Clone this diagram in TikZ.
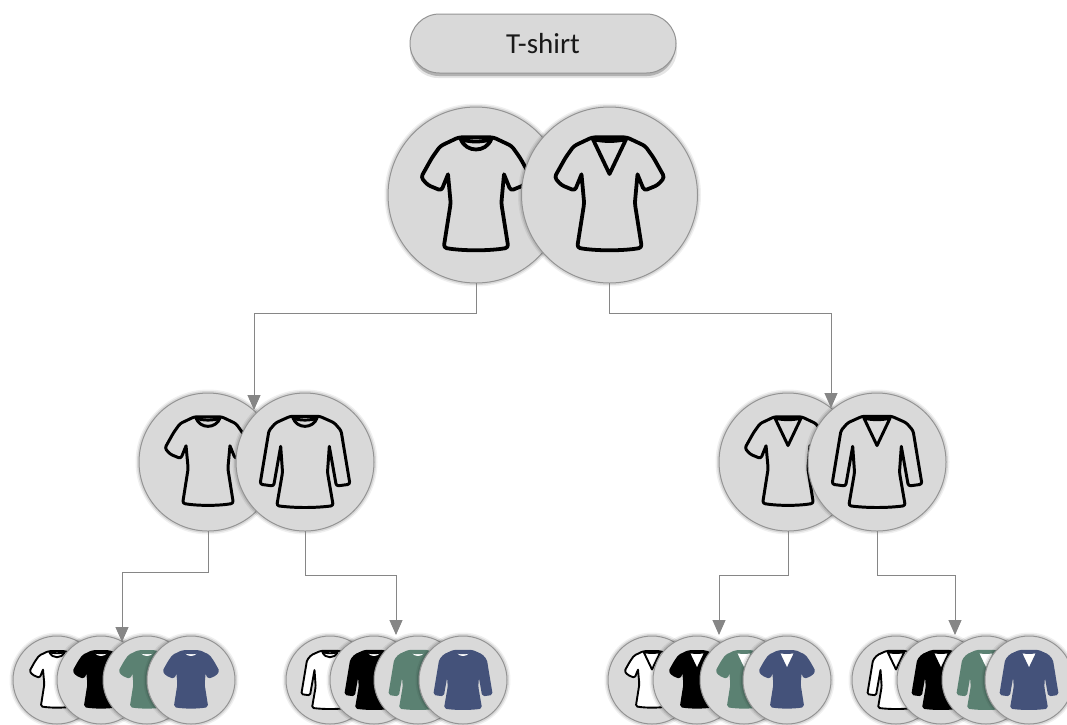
\documentclass[tikz,border=0pt]{standalone}
\usepackage{fontspec}
\setmainfont{Carlito}
\usetikzlibrary{arrows.meta,shapes.misc}
\definecolor{disc}{HTML}{D9D9D9}
\definecolor{rim}{HTML}{949494}
\definecolor{linkgray}{HTML}{868686}
\definecolor{sage}{HTML}{5B8172}
\definecolor{navy}{HTML}{44527A}
\tikzset{
  discnode/.style={circle,draw=rim,line width=1pt,fill=disc,inner sep=0pt,outer sep=0pt},
  pillnode/.style={rounded rectangle,draw=rim,line width=1pt,fill=disc,inner sep=0pt,outer sep=0pt,
    minimum width=266pt,minimum height=59pt,font=\fontsize{29}{32}\selectfont,text=black!90},
  link/.style={draw=linkgray,line width=1pt,-{Triangle[length=15pt,width=13pt,fill=linkgray]}},
}
% body outlines, in units of 1/264 of the disc radius
\def\bodyS{(-52,-173) -- (-107,-147) -- (-132,-112) -- (-165,-53) -- (-145,-30) -- (-104,-13) [sharp corners] -- (-84,-62) [rounded corners=\rc pt]
  -- (-76,25) -- (-97,158) .. controls (-40,168) and (40,168) .. (97,158) -- (76,25) [sharp corners] -- (84,-62) [rounded corners=\rc pt]
  -- (104,-13) -- (145,-30) -- (165,-53) -- (132,-112) -- (107,-147) -- (52,-173) -- cycle}
\def\bodyL{(-56,-175) -- (-112,-150) -- (-138,-120) -- (-172,85) -- (-120,92) [sharp corners] -- (-93,-60) [rounded corners=\rc pt]
  -- (-86,40) -- (-108,167) .. controls (-40,176) and (40,176) .. (108,167) -- (86,40) [sharp corners] -- (93,-60) [rounded corners=\rc pt]
  -- (120,92) -- (172,85) -- (138,-120) -- (112,-150) -- (56,-175) -- cycle}
\def\neckR{(-46,-168) .. controls (-20,-158) and (20,-158) .. (46,-168) .. controls (30,-126) and (-30,-126) .. cycle}
\def\neckV{(-50,-168) .. controls (-20,-160) and (20,-160) .. (50,-168) -- (0,-63) -- cycle}
% name, cx, cy, r, body, neck, fill, stroke, neck fill
\newcommand\teedisc[9]{%
  \fill[black,opacity=.06] (#2,#3) circle ({#4+3.5});
  \fill[black,opacity=.10] (#2,#3) circle ({#4+2});
  \node[discnode,minimum size=#4*2pt] (#1) at (#2,#3) {};
  \pgfmathsetmacro\sc{#4/264}
  \pgfmathsetmacro\lw{#4*.043}
  \pgfmathsetmacro\rc{#4*.035}
  \begin{scope}[shift={(#1.center)},x=\sc pt,y=-\sc pt,line width=\lw pt,line join=round]
    \expandafter\let\expandafter\curbody\csname body#5\endcsname
    \expandafter\let\expandafter\curneck\csname neck#6\endcsname
    \filldraw[fill=#7,draw=#8,rounded corners=\rc pt] \curbody;
    \filldraw[fill=#9,draw=#8,line width=\lw pt] \curneck;
  \end{scope}}
\begin{document}
\begin{tikzpicture}[x=1pt,y=-1pt]
\useasboundingbox (0,0) rectangle (1067,724);
\fill[white] (0,0) rectangle (1067,724);
% title
\fill[black,opacity=.10,rounded corners=28pt] (410,18) rectangle (677,78);
\fill[black,opacity=.22,rounded corners=28pt] (411,18) rectangle (675,76);
\node[pillnode] (title) at (543,43.5) {T-shirt};
% top level
\teedisc{a1}{476}{195}{88}{S}{R}{disc}{black}{disc}
\teedisc{a2}{609.5}{195}{88}{S}{V}{disc}{black}{disc}
% middle level
\teedisc{b1}{208}{462}{69}{S}{R}{disc}{black}{disc}
\teedisc{b2}{305}{462}{69}{L}{R}{disc}{black}{disc}
\teedisc{b3}{788}{462}{69}{S}{V}{disc}{black}{disc}
\teedisc{b4}{877}{462}{69}{L}{V}{disc}{black}{disc}
% bottom level
\teedisc{c1}{57}{680}{44}{S}{R}{white}{black}{white}
\teedisc{c2}{101}{680}{44}{S}{R}{black}{black}{white}
\teedisc{c3}{147}{680}{44}{S}{R}{sage}{sage}{white}
\teedisc{c4}{191}{680}{44}{S}{R}{navy}{navy}{white}
\teedisc{d1}{330}{680}{44}{L}{R}{white}{black}{white}
\teedisc{d2}{374}{680}{44}{L}{R}{black}{black}{white}
\teedisc{d3}{418}{680}{44}{L}{R}{sage}{sage}{white}
\teedisc{d4}{463}{680}{44}{L}{R}{navy}{navy}{white}
\teedisc{e1}{652}{680}{44}{S}{V}{white}{black}{white}
\teedisc{e2}{697}{680}{44}{S}{V}{black}{black}{white}
\teedisc{e3}{744}{680}{44}{S}{V}{sage}{sage}{white}
\teedisc{e4}{787}{680}{44}{S}{V}{navy}{navy}{white}
\teedisc{f1}{896}{680}{44}{L}{V}{white}{black}{white}
\teedisc{f2}{941}{680}{44}{L}{V}{black}{black}{white}
\teedisc{f3}{986}{680}{44}{L}{V}{sage}{sage}{white}
\teedisc{f4}{1029}{680}{44}{L}{V}{navy}{navy}{white}
% arrow ends
\coordinate (t1) at (254,410);
\coordinate (t2) at (831,408);
\coordinate (t3) at (122,642);
\coordinate (t4) at (396,635);
\coordinate (t5) at (719,635);
\coordinate (t6) at (955,635);
% connectors
\draw[link] (a1.south) -- ++(0,30) -| (t1);
\draw[link] (a2.south) -- ++(0,30) -| (t2);
\draw[link] (b1.south) -- ++(0,41) -| (t3);
\draw[link] (b2.south) -- ++(0,44) -| (t4);
\draw[link] (b3.south) -- ++(0,44) -| (t5);
\draw[link] (b4.south) -- ++(0,44) -| (t6);
\end{tikzpicture}
\end{document}
